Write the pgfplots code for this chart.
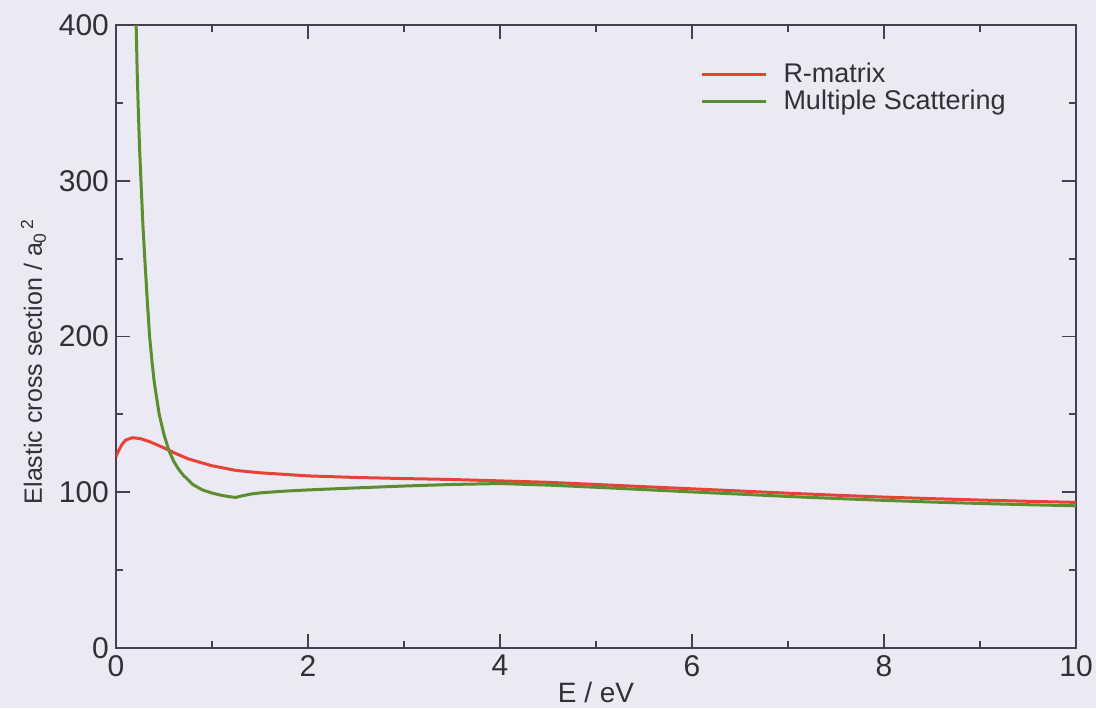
\documentclass[border=0pt]{standalone}
\usepackage{fontspec}
\setmainfont{Liberation Sans}
\usepackage{pgfplots}
\pgfplotsset{compat=1.18}
\usetikzlibrary{backgrounds}
\definecolor{bg}{RGB}{234,233,244}
\definecolor{rline}{RGB}{232,66,54}
\definecolor{gline}{RGB}{92,142,48}
\definecolor{frame}{RGB}{72,62,82}
\definecolor{txt}{RGB}{52,46,58}
\begin{document}
\begin{tikzpicture}
\begin{axis}[
  scale only axis, width=480pt, height=311.5pt,
  xmin=0, xmax=10, ymin=0, ymax=400,
  xtick={0,2,...,10}, minor xtick={1,3,...,9},
  ytick={0,100,...,400}, minor ytick={50,150,...,350},
  tick align=inside, major tick length=7pt, minor tick length=3.5pt,
  axis line style={frame, line width=0.9pt},
  tick style={frame, line width=0.9pt},
  tick label style={font=\fontsize{15}{18}\selectfont, text=txt},
  /pgf/number format/assume math mode=true,
  xlabel={E / eV}, ylabel={Elastic cross section / a\textsubscript{0}\textsuperscript{\,2}},
  label style={text=txt},
  xlabel style={font=\fontsize{14}{16}\selectfont, at={(axis description cs:0.5,-0.071)}, anchor=center},
  ylabel style={font=\fontsize{12.5}{15}\selectfont, at={(axis description cs:-0.086,0.46)}, anchor=center},
  legend style={at={(1,1)}, anchor=north east, xshift=-30pt, yshift=-15pt,
    draw=none, fill=none, font=\fontsize{13.5}{15}\selectfont, text=txt,
    row sep=-2pt},
  legend cell align=left,
  legend image code/.code={\draw[#1] (0pt,0pt) -- (32pt,0pt); \path (38pt,0pt);},
  clip=true,
]
\addplot[rline, line width=1.5pt] coordinates {
(0,123) (0.03,127) (0.06,130.5) (0.1,133.5) (0.17,135) (0.25,134.5) (0.35,132.5)
(0.5,128.5) (0.6,125.5) (0.75,121.5) (1.0,117) (1.25,114) (1.5,112.5)
(2.0,110.5) (2.5,109.5) (3.0,108.8) (3.5,108.2) (4.0,107.3) (4.5,106.4)
(5.0,105) (5.5,103.6) (6.0,102.2) (6.5,100.8) (7.0,99.4) (7.5,98.1)
(8.0,96.9) (8.5,95.9) (9.0,95) (9.5,94.2) (10,93.5)
};
\addlegendentry{R-matrix}
\addplot[gline, line width=1.5pt] coordinates {
(0.2,420) (0.21,400) (0.22,372) (0.23,350) (0.245,322) (0.26,300) (0.28,272)
(0.3,250) (0.325,224) (0.35,200) (0.375,184) (0.4,170) (0.45,150) (0.5,137)
(0.55,127) (0.6,120) (0.65,115) (0.7,111) (0.8,105) (0.9,101.5) (1.0,99.5)
(1.1,98) (1.2,97) (1.25,96.7) (1.3,97.5) (1.4,98.8) (1.5,99.6) (1.75,100.7)
(2.0,101.5) (2.5,102.8) (3.0,104) (3.5,105) (4.0,105.6) (4.5,104.6)
(5.0,103.2) (5.5,101.7) (6.0,100.2) (6.5,98.8) (7.0,97.3) (7.5,96)
(8.0,94.8) (8.5,93.7) (9.0,92.8) (9.5,92) (10,91.3)
};
\addlegendentry{Multiple Scattering}
\end{axis}
\pgfresetboundingbox
\begin{pgfonlayer}{background}
\fill[bg] ([shift={(-58pt,-30pt)}]current axis.south west) rectangle ([shift={(10pt,12.5pt)}]current axis.north east);
\end{pgfonlayer}
\end{tikzpicture}
\end{document}
